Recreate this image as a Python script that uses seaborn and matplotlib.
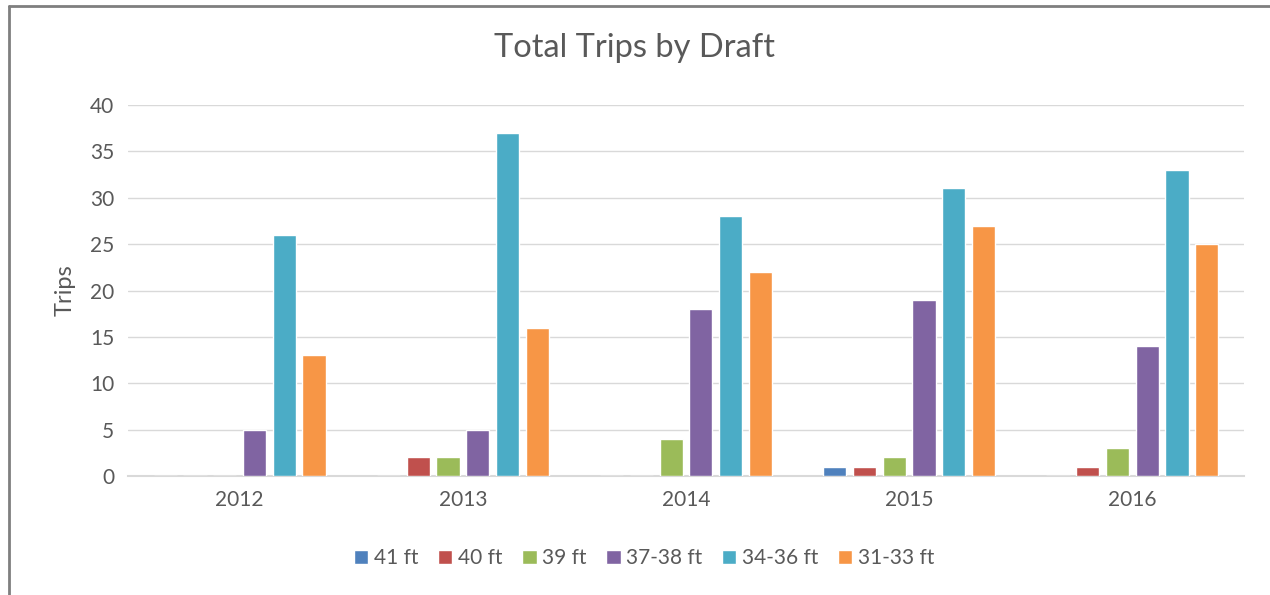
import pandas as pd
import matplotlib.pyplot as plt
import seaborn as sns
from matplotlib.lines import Line2D

years = ["2012", "2013", "2014", "2015", "2016"]
drafts = ["41 ft", "40 ft", "39 ft", "37-38 ft", "34-36 ft", "31-33 ft"]
ft41 = [0, 0, 0, 1, 0]
ft40 = [0, 2, 0, 1, 1]
ft39 = [0, 2, 4, 2, 3]
ft37_38 = [5, 5, 18, 19, 14]
ft34_36 = [26, 37, 28, 31, 33]
ft31_33 = [13, 16, 22, 27, 25]
colors = ["#4F81BD", "#C0504D", "#9BBB59", "#8064A2", "#4BACC6", "#F79646"]

wide = pd.DataFrame({"Year": years, "41 ft": ft41, "40 ft": ft40, "39 ft": ft39,
                     "37-38 ft": ft37_38, "34-36 ft": ft34_36, "31-33 ft": ft31_33})
df = wide.melt(id_vars="Year", var_name="Draft", value_name="Trips")

sns.set_style("white")
plt.rcParams["font.family"] = ["Lato", "DejaVu Sans"]
text_col = "#595959"

fig = plt.figure(figsize=(12.7, 5.95), dpi=100)
ax = fig.add_axes([0.1008, 0.2, 0.8787, 0.6235])

sns.barplot(data=df, x="Year", y="Trips", hue="Draft", hue_order=drafts,
            palette=colors, width=0.8, gap=0.22, saturation=1, ax=ax, zorder=3)

ax.set_ylim(0, 40)
ax.set_yticks(range(0, 41, 5))
ax.yaxis.grid(True, color="#D9D9D9", linewidth=1, zorder=0)
ax.set_axisbelow(True)
for s in ["top", "right", "left"]:
    ax.spines[s].set_visible(False)
ax.spines["bottom"].set_color("#D9D9D9")
ax.spines["bottom"].set_linewidth(1.5)
ax.tick_params(axis="both", length=0, labelsize=15, labelcolor=text_col, pad=10)
ax.set_xlabel("")
ax.set_ylabel("Trips", fontsize=17, color=text_col, labelpad=10)

fig.suptitle("Total Trips by Draft", x=0.5, y=0.945, fontsize=23.5, color=text_col)

handles, labels = ax.get_legend_handles_labels()
ax.legend(handles, labels, loc="center", bbox_to_anchor=(0.507, 0.062),
          bbox_transform=fig.transFigure, ncol=6, frameon=False, fontsize=15,
          labelcolor=text_col, handlelength=0.7, handleheight=0.7,
          handletextpad=0.25, columnspacing=0.95)

# chart frame (left and top edges visible)
fig.add_artist(Line2D([0.0068, 0.0068], [0, 0.99], color="#7F7F7F", linewidth=2,
                      transform=fig.transFigure))
fig.add_artist(Line2D([0.0068, 1.0], [0.99, 0.99], color="#7F7F7F", linewidth=2,
                      transform=fig.transFigure))

fig.savefig("out.png", dpi=100)
